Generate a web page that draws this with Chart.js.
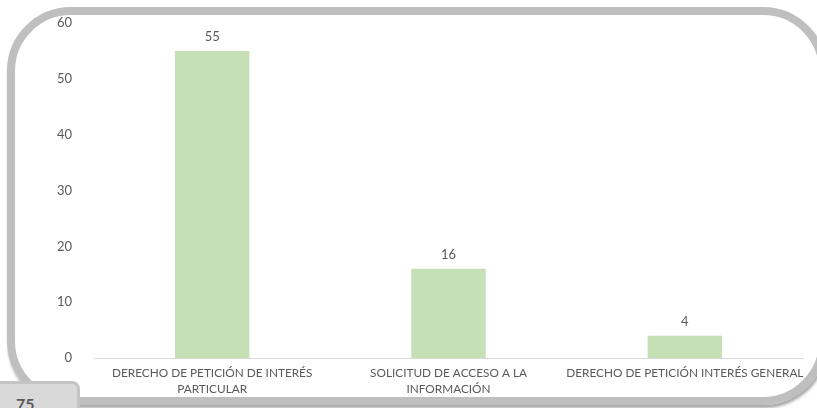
<!DOCTYPE html>
<html>
<head>
<meta charset="utf-8">
<script src="https://cdn.jsdelivr.net/npm/chart.js@4.4.1/dist/chart.umd.min.js"></script>
<style>
    html, body { margin: 0; padding: 0; background: #fff; }
    #wrap { position: relative; width: 817px; height: 408px; overflow: hidden; }
    #frame {
        position: absolute; left: 7px; top: 7px; width: 804px; height: 382px;
        border: 8px solid #bfbfbf; border-radius: 64px;
        box-shadow: 1px 3px 3px rgba(0, 0, 0, 0.35);
    }
    #pageBox {
        position: absolute; left: -4px; top: 381px; width: 78px; height: 40px;
        background: #d9d9d9; border: 3px solid #c4c4c4; border-radius: 0 8px 0 0;
        font: bold 16px Lato, "Open Sans", sans-serif; color: #595959;
    }
    #pageBox span { position: absolute; left: 17px; top: 10px; }
    canvas { position: absolute; left: 0; top: 0; }
</style>
</head>
<body>
<div id="wrap">
    <div id="frame"></div>
    <canvas id="barChart" width="817" height="408"></canvas>
    <div id="pageBox"><span>75</span></div>
</div>
<script>
const categories = [
    ['DERECHO DE PETICIÓN DE INTERÉS', 'PARTICULAR'],
    ['SOLICITUD DE ACCESO A LA', 'INFORMACIÓN'],
    'DERECHO DE PETICIÓN INTERÉS GENERAL'
];
const requestCounts = [55, 16, 4];
const yTicks = [0, 10, 20, 30, 40, 50, 60];

const fontFamily = 'Lato, "Open Sans", sans-serif';

// draws the value above each bar
const valueLabels = {
    id: 'valueLabels',
    afterDatasetsDraw(chart) {
        const ctx = chart.ctx;
        const meta = chart.getDatasetMeta(0);
        ctx.save();
        ctx.font = '13px ' + fontFamily;
        ctx.fillStyle = '#595959';
        ctx.textAlign = 'center';
        ctx.textBaseline = 'middle';
        meta.data.forEach((bar, i) => {
            ctx.fillText(requestCounts[i], bar.x, bar.y - 14);
        });
        ctx.restore();
    }
};

document.addEventListener('DOMContentLoaded', () => {
    const ctx = document.getElementById('barChart').getContext('2d');
    window.barChart = new Chart(ctx, {
        type: 'bar',
        data: {
            labels: categories,
            datasets: [{
                label: 'Solicitudes',
                data: requestCounts,
                backgroundColor: '#c5e0b4',
                borderWidth: 0,
                categoryPercentage: 1,
                barPercentage: 0.315
            }]
        },
        options: {
            responsive: false,
            animation: false,
            layout: { padding: { top: 23, right: 14, left: 0, bottom: 0 } },
            plugins: {
                legend: { display: false },
                tooltip: { enabled: false }
            },
            scales: {
                x: {
                    grid: { display: false },
                    border: { display: true, color: '#d9d9d9', width: 1 },
                    ticks: {
                        color: '#595959',
                        font: { family: fontFamily, size: 11.8, lineHeight: 1.3 },
                        padding: 0,
                        maxRotation: 0,
                        autoSkip: false
                    },
                    afterFit(scale) { scale.height = 50; }
                },
                y: {
                    min: 0,
                    max: 60,
                    grid: { display: false },
                    border: { display: false },
                    afterBuildTicks(scale) {
                        scale.ticks = yTicks.map(v => ({ value: v }));
                    },
                    ticks: {
                        color: '#595959',
                        font: { family: fontFamily, size: 13 },
                        padding: 14
                    },
                    afterFit(scale) { scale.width = 94; }
                }
            }
        },
        plugins: [valueLabels]
    });
});
</script>
</body>
</html>
